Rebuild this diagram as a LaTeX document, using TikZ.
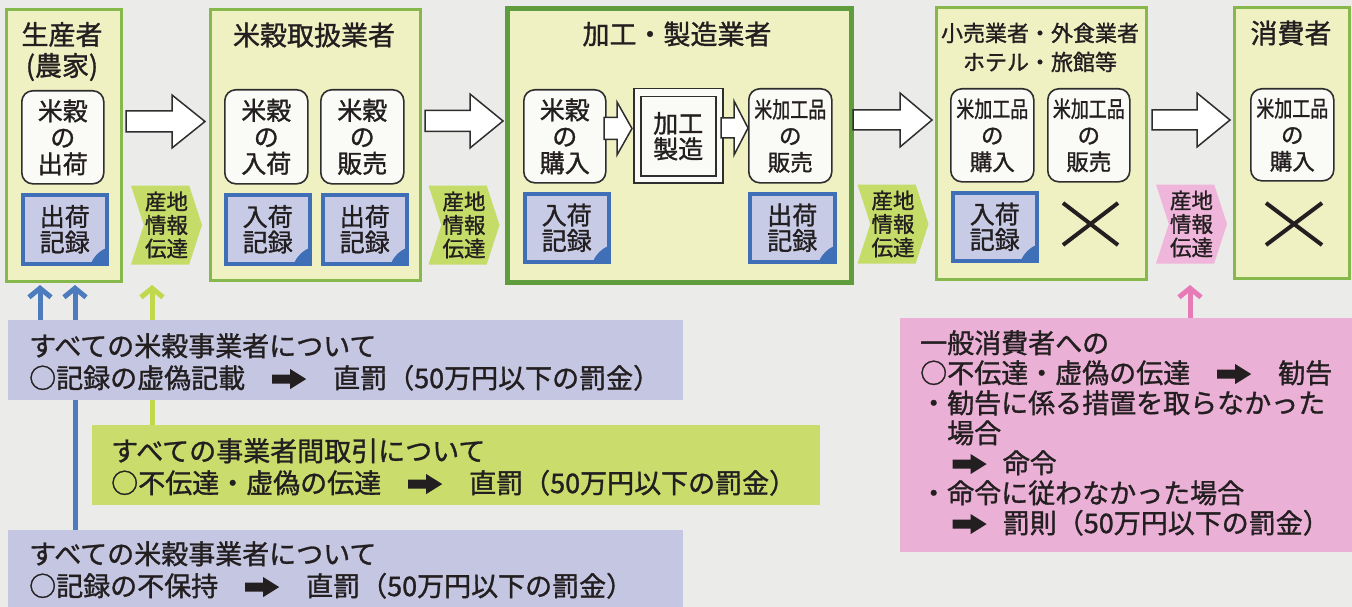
\documentclass[tikz,border=0pt]{standalone}
\usepackage{fontspec}
\setmainfont{Noto Sans CJK JP}[FakeBold=1.2]
\usepackage{graphicx}
\usetikzlibrary{shapes.symbols,arrows.meta}
\pgfdeclarelayer{bgl}
\pgfdeclarelayer{back}
\pgfsetlayers{bgl,back,main}
\definecolor{bgc}{HTML}{EBEBE9}
\definecolor{colfill}{HTML}{F0F1C3}
\definecolor{colline}{HTML}{86B84C}
\definecolor{colthick}{HTML}{5E9C3E}
\definecolor{recfill}{HTML}{C8CBE6}
\definecolor{recline}{HTML}{3F6FB6}
\definecolor{chevg}{HTML}{C6DC68}
\definecolor{chevp}{HTML}{F0B5DA}
\definecolor{lavbox}{HTML}{C5C7E2}
\definecolor{grnbox}{HTML}{C9DC6C}
\definecolor{pnkbox}{HTML}{EBB0D6}
\definecolor{bluearr}{HTML}{4C7CBD}
\definecolor{grnarr}{HTML}{BFD84C}
\definecolor{pnkarr}{HTML}{E67BB8}
\definecolor{txt}{HTML}{231F20}
\definecolor{boxline}{HTML}{2E2E2E}
\definecolor{rfill}{HTML}{FAFAF6}
\newcommand{\rarr}{\tikz[baseline=-9pt,x=1pt,y=1pt]\fill[txt] (0,-4.5) -- (18,-4.5) -- (18,-10) -- (34,0) -- (18,10) -- (18,4.5) -- (0,4.5) -- cycle;}
\newcommand{\cond}[1]{\scalebox{0.8}[1]{#1}}
\newcommand{\bxn}[7]{\node[#1, anchor=north west, minimum width={#5-#3}, minimum height={#6-#4}] (#2) at (#3,#4) {#7};}
\newcommand{\blockarr}[6]{\draw[wbarr] (#1,#4-#5) -- (#2,#4-#5) -- (#2,#4-#6) -- (#3,#4) -- (#2,#4+#6) -- (#2,#4+#5) -- (#1,#4+#5) -- cycle;}
\tikzset{
 colbox/.style={draw=colline, line width=3pt, fill=colfill, inner sep=0pt},
 thickbox/.style={colbox, draw=colthick, line width=5pt},
 rbox/.style={draw=boxline, line width=1.6pt, fill=rfill, rounded corners=11pt, inner sep=0pt, align=center, text=txt, font=\fontsize{25}{26.5}\selectfont},
 rboxs/.style={rbox, font=\fontsize{22.5}{26.5}\selectfont},
 sqbox/.style={draw=boxline, line width=1.5pt, fill=rfill, inner sep=0pt, align=center, text=txt, font=\fontsize{25}{25.5}\selectfont},
 rec/.style={draw=recline, line width=3.5pt, fill=recfill, inner sep=0pt, align=center, text=txt, font=\fontsize{25}{25.5}\selectfont,
   path picture={\fill[recline] (path picture bounding box.south east) -- ++(-16pt,0pt) to[bend left=20] ++(16pt,16pt) -- cycle;}},
 chev/.style={signal, signal from=west, signal to=east, signal pointer angle=144, minimum width=71pt, minimum height=79pt, inner sep=0pt, align=center, text=txt, font=\fontsize{21.5}{23.5}\selectfont},
 title/.style={inner sep=0pt, align=center, text=txt, font=\fontsize{27}{31}\selectfont},
 xmark/.style={line width=4pt, draw=txt},
 barr/.style={line width=5pt, -{Straight Barb[length=9pt,width=22pt]}},
 wbarr/.style={draw=boxline, line width=1.5pt, fill=white},
 note/.style={inner sep=0pt, align=left, text=txt, anchor=west, font=\fontsize{27}{32}\selectfont},
 plain/.style={inner sep=0pt, draw=none},
}
\begin{document}
\begin{tikzpicture}[x=1pt,y=-1pt]
\useasboundingbox (0,0) rectangle (1352,607);
\begin{pgfonlayer}{bgl}
\fill[bgc] (0,0) rectangle (1352,607);
\end{pgfonlayer}
% columns
\bxn{colbox}{colA}{5}{8}{120}{280}{}
\bxn{colbox}{colB}{209}{8}{419}{279}{}
\bxn{thickbox}{colC}{505}{6}{849}{280}{}
\bxn{colbox}{colD}{935}{6}{1145}{278}{}
\bxn{colbox}{colE}{1233}{6}{1348}{277}{}
% titles
\node[title] (tA) at (62,51.5) {生産者\\(農家)};
\node[title] (tB) at (314,35) {米穀取扱業者};
\node[title] (tC) at (677,34) {加工・製造業者};
\node[title, font=\fontsize{22}{29}\selectfont] (tD) at (1040,47.5) {小売業者・外食業者\\ホテル・旅館等};
\node[title] (tE) at (1291,33) {消費者};
% inner boxes
\bxn{rbox}{iA}{21}{90}{103}{183}{米穀\\の\\出荷}
\bxn{rbox}{iB1}{224}{89}{307}{183}{米穀\\の\\入荷}
\bxn{rbox}{iB2}{320}{89}{403}{183}{米穀\\の\\販売}
\bxn{rbox}{iC1}{523}{89}{605}{182}{米穀\\の\\購入}
\bxn{sqbox}{mk}{633}{88}{722}{182}{}
\bxn{sqbox}{mki}{640}{96}{715}{175}{加工\\製造}
\bxn{rboxs}{iC2}{748}{88}{831}{182}{\cond{米加工品}\\の\\販売}
\bxn{rboxs}{iD1}{950}{88}{1033}{181}{\cond{米加工品}\\の\\購入}
\bxn{rboxs}{iD2}{1047}{88}{1129}{181}{\cond{米加工品}\\の\\販売}
\bxn{rboxs}{iE}{1250}{88}{1333}{180}{\cond{米加工品}\\の\\購入}
% records
\bxn{rec}{rA}{21}{193}{105}{262}{出荷\\記録}
\bxn{rec}{rB1}{224}{193}{308}{262}{入荷\\記録}
\bxn{rec}{rB2}{321}{193}{405}{262}{出荷\\記録}
\bxn{rec}{rC1}{523}{192}{607}{260}{入荷\\記録}
\bxn{rec}{rC2}{748}{192}{833}{260}{出荷\\記録}
\bxn{rec}{rD1}{951}{191}{1035}{259}{入荷\\記録}
% crosses
\draw[xmark] (1063,203) -- (1118,245) (1063,245) -- (1118,203);
\draw[xmark] (1266,203) -- (1322,245) (1266,245) -- (1322,203);
% chevrons
\node[chev, fill=chevg] (cA) at (166.5,225) {産地\\情報\\伝達};
\node[chev, fill=chevg] (cB) at (464,225) {産地\\情報\\伝達};
\node[chev, fill=chevg] (cC) at (893,224) {産地\\情報\\伝達};
\node[chev, fill=chevp] (cD) at (1191.5,224) {産地\\情報\\伝達};
% block arrows
\blockarr{126}{172}{205}{121.5}{10.5}{26.5}
\blockarr{425}{470}{503}{121}{10.5}{27}
\blockarr{853}{900}{932}{120}{10}{27}
\blockarr{1152}{1197}{1230}{120}{10}{27}
\blockarr{604}{617}{632}{128.5}{11}{26.5}
\blockarr{721}{734}{748}{128}{10}{27}
% bottom boxes
\bxn{fill=lavbox, plain}{L1}{8}{320}{683}{400}{}
\bxn{fill=grnbox, plain}{G}{92}{425}{820}{505}{}
\bxn{fill=lavbox, plain}{L3}{8}{530}{683}{615}{}
\bxn{fill=pnkbox, plain}{P}{900}{318}{1360}{552}{}
\node[note] (L1t) at (29,362) {すべての米穀事業者について\\○記録の虚偽記載　\rarr　直罰（50万円以下の罰金）};
\node[note] (Gt) at (111,467) {すべての事業者間取引について\\○不伝達・虚偽の伝達　\rarr　直罰（50万円以下の罰金）};
\node[note] (L3t) at (29,570) {すべての米穀事業者について\\○記録の不保持　\rarr　直罰（50万円以下の罰金）};
\node[note, font=\fontsize{27}{30}\selectfont] (Pt) at (920,433) {一般消費者への\\○不伝達・虚偽の伝達　\rarr　勧告\\・勧告に係る措置を取らなかった\\\hspace*{1em}場合\\\hspace*{1.2em}\rarr\hspace{0.6em}命令\\・命令に従わなかった場合\\\hspace*{1.2em}\rarr\hspace{0.6em}罰則（50万円以下の罰金）};
% penalty arrows
\coordinate (hA1) at (40,285);
\coordinate (hA2) at (75,285);
\coordinate (hG) at (152,285);
\coordinate (hP) at (1190,285);
\begin{pgfonlayer}{back}
\draw[barr, draw=bluearr] (L1.north -| hA1) -- (hA1);
\draw[barr, draw=bluearr] (L3.north -| hA2) -- (hA2);
\draw[barr, draw=grnarr] (G.north -| hG) -- (hG);
\draw[barr, draw=pnkarr] (P.north -| hP) -- (hP);
\end{pgfonlayer}
\end{tikzpicture}
\end{document}
